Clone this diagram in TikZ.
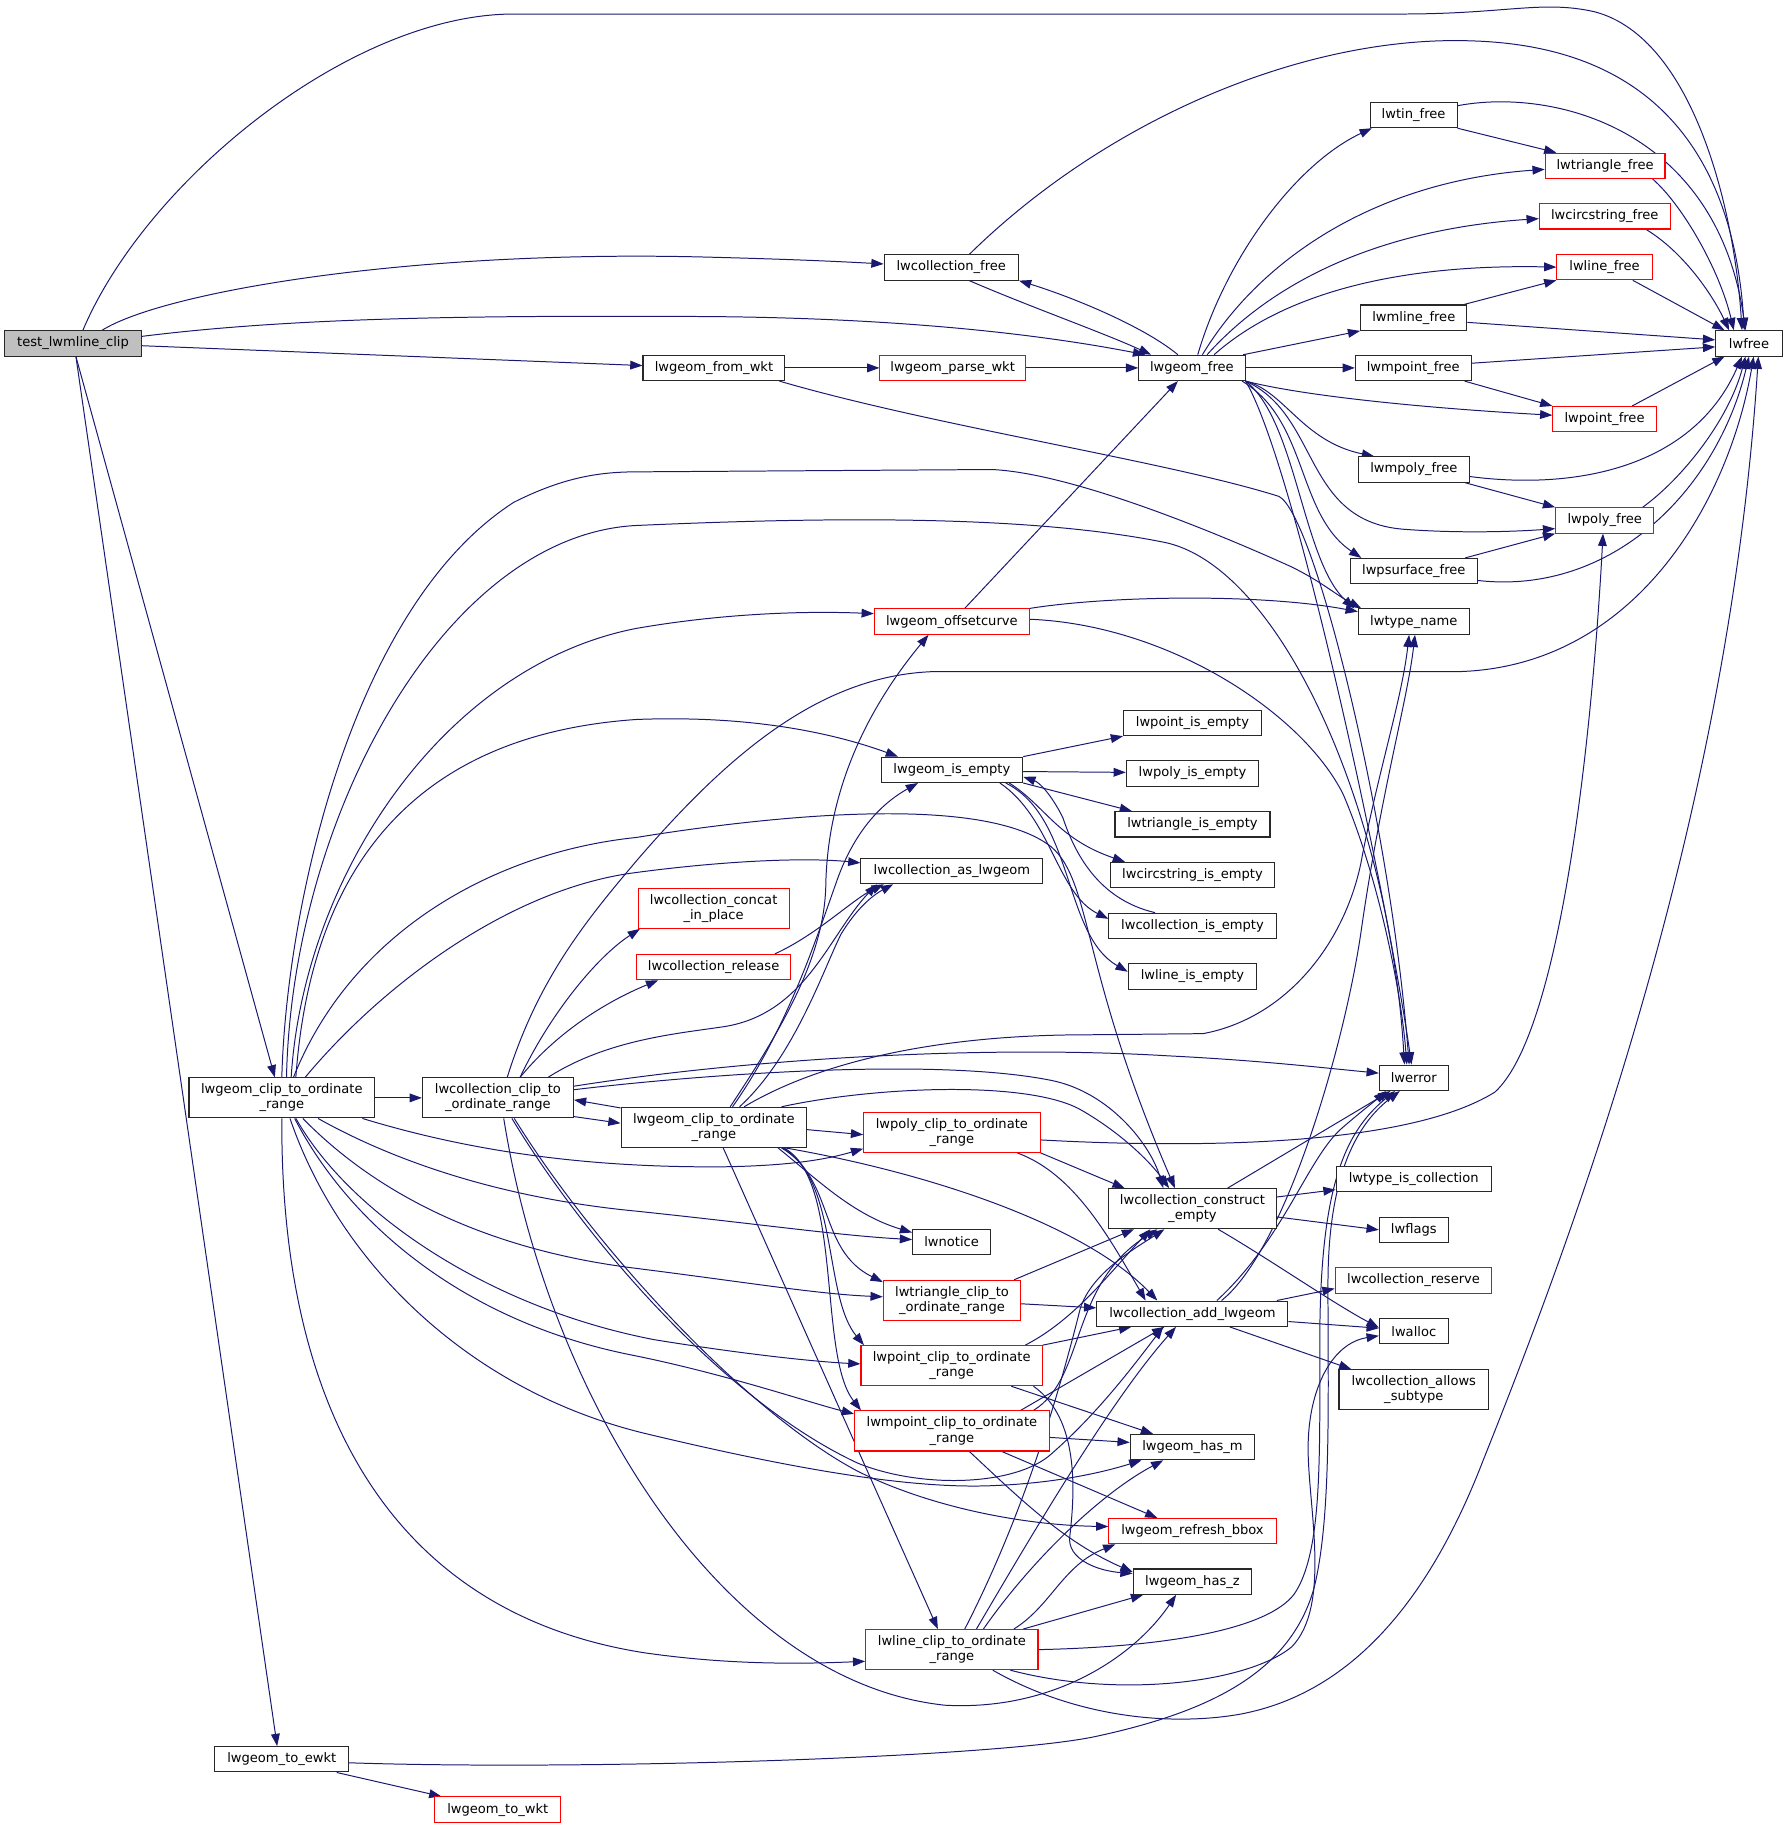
\documentclass[tikz,border=0pt]{standalone}
\usepackage{fontspec}
\setmainfont{DejaVu Sans}
\usetikzlibrary{arrows.meta,backgrounds}
\definecolor{edgec}{RGB}{25,25,112}
\definecolor{nodeb}{RGB}{40,40,40}
\definecolor{redb}{RGB}{255,0,0}
\definecolor{grayf}{RGB}{191,191,191}
\tikzset{
  fn/.style={draw=nodeb, line width=0.9pt, fill=white, inner sep=0pt, align=center,
    font=\fontsize{11.2}{13.1}\selectfont, minimum height=21.7pt},
  fnr/.style={fn, draw=redb},
  two/.style={minimum height=34.3pt},
  cg/.style={draw=edgec, line width=0.85pt, -{Triangle[length=10.5pt,width=7.5pt]}}
}
\begin{document}
\begin{tikzpicture}[x=1pt,y=-1pt]
\useasboundingbox (0,0) rectangle (1530,1566);
% nodes
\node[fn, fill=grayf, minimum width=117pt] (T) at (62.5,294) {test\_lwmline\_clip};
\node[fn, minimum width=115pt] (CF) at (814.5,229) {lwcollection\_free};
\node[fn, minimum width=121.5pt] (FW) at (611.3,315) {lwgeom\_from\_wkt};
\node[fnr, minimum width=124.6pt] (PW) at (815.7,315) {lwgeom\_parse\_wkt};
\node[fn, minimum width=91pt] (GF) at (1020.5,315) {lwgeom\_free};
\node[fn, minimum width=74.5pt] (TIN) at (1210.3,98.5) {lwtin\_free};
\node[fnr, minimum width=102.5pt] (TRI) at (1374.3,142) {lwtriangle\_free};
\node[fnr, minimum width=112pt] (CIRC) at (1374,185.2) {lwcircstring\_free};
\node[fnr, minimum width=81.5pt] (LINEF) at (1373.8,228.7) {lwline\_free};
\node[fn, minimum width=91pt] (MLINE) at (1210.5,272) {lwmline\_free};
\node[fn, minimum width=99pt] (MPOINTF) at (1210,315) {lwmpoint\_free};
\node[fnr, minimum width=88.4pt] (POINTF) at (1373.8,358.9) {lwpoint\_free};
\node[fn, minimum width=95pt] (MPOLY) at (1210.5,402) {lwmpoly\_free};
\node[fnr, minimum width=84pt] (POLYF) at (1374,445.6) {lwpoly\_free};
\node[fn, minimum width=109pt] (PSURF) at (1210.5,489) {lwpsurface\_free};
\node[fn, minimum width=57pt] (FREE) at (1497.5,294) {lwfree};
\node[fn, minimum width=95pt] (TYPEN) at (1210.5,532.2) {lwtype\_name};
\node[fnr, minimum width=132.7pt] (OC) at (815,532.2) {lwgeom\_offsetcurve};
\node[fn, minimum width=121.3pt] (IE) at (815,659.1) {lwgeom\_is\_empty};
\node[fn, minimum width=118pt] (PIE) at (1021,619) {lwpoint\_is\_empty};
\node[fn, minimum width=113.3pt] (POLYIE) at (1021,662.3) {lwpoly\_is\_empty};
\node[fn, minimum width=132.7pt] (TRIIE) at (1021,705.8) {lwtriangle\_is\_empty};
\node[fn, minimum width=140.7pt] (CIRCIE) at (1021,749.2) {lwcircstring\_is\_empty};
\node[fn, minimum width=143.2pt] (COLLIE) at (1021,792.7) {lwcollection\_is\_empty};
\node[fn, minimum width=110pt] (LINEIE) at (1021,836) {lwline\_is\_empty};
\node[fn, minimum width=155.7pt] (AS) at (815,745.8) {lwcollection\_as\_lwgeom};
\node[fnr, two, minimum width=129.3pt] (CC) at (611,777.7) {lwcollection\_concat\\\_in\_place};
\node[fnr, minimum width=132pt] (CR) at (611,828) {lwcollection\_release};
\node[fn, minimum width=59pt] (ERR) at (1210.5,922.8) {lwerror};
\node[fn, two, minimum width=159pt] (L) at (241.3,940) {lwgeom\_clip\_to\_ordinate\\\_range};
\node[fn, two, minimum width=129.3pt] (C) at (426.3,940) {lwcollection\_clip\_to\\\_ordinate\_range};
\node[fn, two, minimum width=158.9pt] (M) at (611.2,965.2) {lwgeom\_clip\_to\_ordinate\\\_range};
\node[fnr, two, minimum width=151pt] (PC) at (815,969.5) {lwpoly\_clip\_to\_ordinate\\\_range};
\node[fn, two, minimum width=143.2pt] (CE) at (1021,1034.9) {lwcollection\_construct\\\_empty};
\node[fn, minimum width=132.8pt] (TIC) at (1210.4,1009.6) {lwtype\_is\_collection};
\node[fn, minimum width=59pt] (FLAGS) at (1210.5,1053) {lwflags};
\node[fn, minimum width=66.8pt] (NOTICE) at (814.8,1063.3) {lwnotice};
\node[fnr, two, minimum width=117.6pt] (TC) at (815.1,1113.3) {lwtriangle\_clip\_to\\\_ordinate\_range};
\node[fn, minimum width=163.7pt] (AL) at (1020.9,1124.8) {lwcollection\_add\_lwgeom};
\node[fnr, minimum width=134.2pt] (RES) at (1210.3,1096.3) {lwcollection\_reserve};
\node[fn, minimum width=59pt] (ALLOC) at (1210.5,1139.7) {lwalloc};
\node[fn, two, minimum width=128.1pt] (ALLOWS) at (1210.5,1189.9) {lwcollection\_allows\\\_subtype};
\node[fnr, two, minimum width=155.2pt] (PTC) at (814.8,1169.3) {lwpoint\_clip\_to\_ordinate\\\_range};
\node[fnr, two, minimum width=166.7pt] (MPC) at (815,1225.2) {lwmpoint\_clip\_to\_ordinate\\\_range};
\node[fn, minimum width=106.5pt] (HASM) at (1021,1239) {lwgeom\_has\_m};
\node[fnr, minimum width=143.2pt] (BBOX) at (1021,1311) {lwgeom\_refresh\_bbox};
\node[fn, minimum width=101.6pt] (HASZ) at (1021,1354.2) {lwgeom\_has\_z};
\node[fnr, two, minimum width=147.5pt] (LC) at (815,1412.4) {lwline\_clip\_to\_ordinate\\\_range};
\node[fn, minimum width=114.5pt] (EW) at (241.3,1506.3) {lwgeom\_to\_ewkt};
\node[fnr, minimum width=107.6pt] (WKT) at (426.2,1549.4) {lwgeom\_to\_wkt};
% edges
\begin{pgfonlayer}{background}
\draw[cg] ([xshift=8.5pt]T.north) .. controls (125,155) and (300,12) .. (440,12) -- (1200,12) .. controls (1290,12) and (1320,0) .. (1365,10) .. controls (1450,32) and (1485,180) .. ([xshift=-6pt]FREE.north);
\draw[cg] ([xshift=25pt]T.north) .. controls (140,250) and (350,214) .. (600,220) .. controls (680,222) and (720,224) .. ([yshift=3pt]CF.west);
\draw[cg] ([yshift=6pt]T.east) .. controls (250,272) and (400,270) .. (600,271) .. controls (780,272) and (900,288) .. ([xshift=-40pt]GF.north);
\draw[cg] ([yshift=-2pt]T.east) -- ([yshift=2pt]FW.west);
\draw[cg] ([xshift=2.5pt]T.south) -- ([xshift=-6pt]L.north);
\draw[cg] ([xshift=2.5pt]T.south) -- ([xshift=-4pt]EW.north);
\draw[cg] ([xshift=15.5pt]CF.north) .. controls (950,100) and (1120,30) .. (1260,35) .. controls (1430,40) and (1485,150) .. ([xshift=-4pt]FREE.north);
\draw[cg] ([xshift=15.5pt]CF.south) .. controls (880,262) and (945,285) .. ([xshift=-35pt]GF.north);
\draw[cg] ([xshift=-12pt]GF.north) .. controls (980,280) and (920,255) .. (CF.south east);
\draw[cg] (FW.east) -- (PW.west);
\draw[cg] ([xshift=56pt]FW.south) .. controls (800,365) and (1000,395) .. (1095,425) .. controls (1125,440) and (1190,700) .. ([xshift=-4pt]ERR.north);
\draw[cg] (PW.east) -- (GF.west);
\draw[cg] ([xshift=5pt]GF.north) .. controls (1050,220) and (1110,140) .. ([xshift=2pt]TIN.south west);
\draw[cg] ([xshift=9pt]GF.north) .. controls (1080,220) and (1180,155) .. ([yshift=-3pt]TRI.west);
\draw[cg] ([xshift=13pt]GF.north) .. controls (1100,230) and (1200,195) .. ([yshift=-2pt]CIRC.west);
\draw[cg] ([xshift=19pt]GF.north) .. controls (1100,250) and (1200,226) .. (LINEF.west);
\draw[cg] ([xshift=-2pt]GF.north east) -- (MLINE.south west);
\draw[cg] (GF.east) -- (MPOINTF.west);
\draw[cg] (GF.south east) .. controls (1120,340) and (1230,350) .. ([yshift=3.4pt]POINTF.west);
\draw[cg] (GF.south east) .. controls (1100,335) and (1115,378) .. ([xshift=14pt]MPOLY.north west);
\draw[cg] (GF.south east) .. controls (1130,355) and (1115,445) .. (1200,453) .. controls (1250,457) and (1300,455) .. ([yshift=-7pt]POLYF.west);
\draw[cg] ([xshift=-3pt]GF.south east) .. controls (1120,360) and (1110,440) .. ([xshift=10pt]PSURF.north west);
\draw[cg] (GF.south east) .. controls (1110,360) and (1115,480) .. ([xshift=-3pt]TYPEN.north west);
\draw[cg] (GF.south east) .. controls (1110,400) and (1190,780) .. ([xshift=-2pt]ERR.north);
\draw[cg] ([yshift=8pt]TIN.east) .. controls (1330,75) and (1470,110) .. ([xshift=-3pt]FREE.north);
\draw[cg] (TIN.south east) -- ([xshift=10pt]TRI.north west);
\draw[cg] ([xshift=-11pt]TRI.south east) .. controls (1440,175) and (1472,230) .. ([xshift=-13pt]FREE.north);
\draw[cg] ([xshift=-21pt]CIRC.south east) .. controls (1440,215) and (1465,250) .. ([xshift=-17pt]FREE.north);
\draw[cg] ([xshift=-17pt]LINEF.south east) -- ([xshift=8pt]FREE.north west);
\draw[cg] ([xshift=-3pt]MLINE.north east) -- (LINEF.south west);
\draw[cg] ([yshift=-4pt]MLINE.east) -- ([yshift=3pt]FREE.west);
\draw[cg] ([yshift=4pt]MPOINTF.east) -- ([yshift=-3pt]FREE.west);
\draw[cg] ([xshift=-6pt]MPOINTF.south east) -- (POINTF.north west);
\draw[cg] ([xshift=-21pt]POINTF.north east) -- ([xshift=8pt]FREE.south west);
\draw[cg] ([yshift=-6pt]MPOLY.east) .. controls (1350,420) and (1450,400) .. ([xshift=-6pt]FREE.south);
\draw[cg] ([xshift=-4pt]MPOLY.south east) -- (POLYF.north west);
\draw[cg] ([xshift=-10pt]POLYF.north east) .. controls (1440,410) and (1480,360) .. ([xshift=-3pt]FREE.south);
\draw[cg] ([xshift=-11pt]PSURF.north east) -- (POLYF.south west);
\draw[cg] ([yshift=-8pt]PSURF.east) .. controls (1380,510) and (1470,420) .. (FREE.south);
\draw[cg] ([yshift=-6.5pt]PC.east) .. controls (1000,982) and (1200,985) .. (1280,935) .. controls (1340,880) and (1365,600) .. ([xshift=-1.5pt]POLYF.south);
\draw[cg] ([xshift=11pt]OC.north) -- ([xshift=-12pt]GF.south);
\draw[cg] (OC.north east) .. controls (950,510) and (1080,508) .. ([yshift=8.5pt]TYPEN.west);
\draw[cg] ([yshift=2pt]OC.east) .. controls (1000,535) and (1115,610) .. (1150,680) .. controls (1180,750) and (1200,850) .. ([xshift=-6pt]ERR.north);
\draw[cg] (L.north) .. controls (245,780) and (300,520) .. (440,430) .. controls (480,410) and (510,404) .. (545,404) -- (849,402) .. controls (920,405) and (1050,460) .. (1105,485) .. controls (1130,497) and (1145,510) .. ([xshift=3pt]TYPEN.north west);
\draw[cg] ([xshift=4pt]L.north) .. controls (250,700) and (380,460) .. (543,450) .. controls (700,443) and (880,440) .. (1000,465) .. controls (1100,490) and (1190,700) .. ([xshift=-8pt]ERR.north);
\draw[cg] ([xshift=8pt]L.north) .. controls (260,750) and (380,570) .. (545,538) .. controls (620,525) and (690,523) .. ([yshift=6.8pt]OC.west);
\draw[cg] ([xshift=12pt]L.north) .. controls (265,760) and (340,630) .. (545,616) .. controls (650,612) and (720,630) .. ([xshift=15pt]IE.north west);
\draw[cg] ([xshift=20pt]L.north) .. controls (330,840) and (440,760) .. (545,747) .. controls (620,737) and (690,734) .. ([yshift=7pt]AS.west);
\draw[cg] ([xshift=10pt]L.north) .. controls (300,800) and (420,730) .. (545,717) .. controls (650,700) and (840,678) .. (900,725) .. controls (935,755) and (925,830) .. ([xshift=-15pt]CE.north);
\draw[cg] (L.east) -- (C.west);
\draw[cg] ([xshift=-11pt]L.south east) .. controls (400,985) and (500,1000) .. (620,999) .. controls (680,998) and (710,992) .. ([yshift=-14pt]PC.west);
\draw[cg] ([xshift=31pt]L.south) .. controls (330,990) and (420,1025) .. (545,1037) .. controls (650,1048) and (720,1058) .. ([yshift=2pt]NOTICE.west);
\draw[cg] ([xshift=18pt]L.south) .. controls (330,1030) and (430,1072) .. (545,1086) .. controls (640,1098) and (700,1108) .. ([yshift=3pt]TC.west);
\draw[cg] ([xshift=12pt]L.south) .. controls (300,1040) and (420,1120) .. (560,1147) .. controls (640,1160) and (700,1166) .. ([yshift=1.5pt]PTC.west);
\draw[cg] ([xshift=11pt]L.south) .. controls (300,1050) and (400,1132) .. (540,1160) .. controls (620,1176) and (690,1200) .. ([yshift=-3pt]MPC.north west);
\draw[cg] ([xshift=7pt]L.south) .. controls (290,1080) and (400,1190) .. (551,1227) .. controls (680,1258) and (780,1275) .. (850,1272) .. controls (900,1270) and (940,1262) .. ([xshift=10pt]HASM.south west);
\draw[cg] (L.south) .. controls (240,1200) and (330,1380) .. (551,1415) .. controls (620,1425) and (680,1425) .. ([yshift=-10pt]LC.west);
\draw[cg] ([xshift=19pt]C.north) .. controls (470,870) and (510,820) .. ([xshift=2pt]CC.south west);
\draw[cg] ([xshift=19pt]C.north) .. controls (480,880) and (525,855) .. ([xshift=19pt]CR.south west);
\draw[cg] ([xshift=43pt]C.north) .. controls (520,890) and (580,885) .. (620,879) .. controls (690,868) and (710,800) .. ([xshift=14pt]AS.south west);
\draw[cg] ([xshift=8pt]C.north) .. controls (460,840) and (500,790) .. (545,737) .. controls (620,650) and (700,578) .. (800,575) -- (1250,575) .. controls (1400,570) and (1480,430) .. ([xshift=4pt]FREE.south);
\draw[cg] ([yshift=10pt]C.east) .. controls (650,905) and (850,895) .. (1000,904) .. controls (1080,908) and (1130,914) .. ([yshift=4pt]ERR.west);
\draw[cg] ([yshift=7pt]C.east) .. controls (600,920) and (800,905) .. (900,925) .. controls (950,935) and (985,980) .. ([xshift=-25pt]CE.north);
\draw[cg] ([yshift=-16pt]C.east) -- ([yshift=3.5pt]M.west);
\draw[cg] ([yshift=-1pt]M.north west) -- ([yshift=-1.7pt]C.east);
\draw[cg] ([xshift=12pt]C.south) .. controls (500,1060) and (620,1200) .. (735,1253) .. controls (790,1275) and (870,1272) .. (900,1245) .. controls (940,1210) and (970,1170) .. ([xshift=-25pt]AL.south);
\draw[cg] ([xshift=14pt]C.south) .. controls (510,1070) and (640,1210) .. (735,1260) .. controls (800,1292) and (880,1306) .. ([yshift=4pt]BBOX.west);
\draw[cg] ([xshift=5pt]C.south) .. controls (470,1200) and (620,1440) .. (809,1460) .. controls (900,1465) and (970,1420) .. ([xshift=-14pt]HASZ.south);
\draw[cg] ([xshift=14pt]M.north) .. controls (670,880) and (705,820) .. (707,760) .. controls (708,680) and (740,610) .. ([xshift=-20pt]OC.south);
\draw[cg] ([xshift=16pt]M.north) .. controls (675,880) and (700,800) .. (718,750) .. controls (735,705) and (760,685) .. ([xshift=-29pt]IE.south);
\draw[cg] ([xshift=22pt]M.north) .. controls (680,905) and (705,830) .. (720,800) .. controls (735,775) and (750,765) .. ([xshift=28pt]AS.south west);
\draw[cg] ([xshift=26pt]M.north) .. controls (700,910) and (800,886) .. (930,886) -- (1030,885) .. controls (1100,872) and (1150,810) .. (1165,740) .. controls (1180,660) and (1200,600) .. ([xshift=-4pt]TYPEN.south);
\draw[cg] ([xshift=58pt]M.north) .. controls (750,930) and (880,925) .. (925,950) .. controls (960,970) and (985,995) .. ([xshift=-20pt]CE.north);
\draw[cg] ([yshift=-2pt]M.east) -- ([yshift=-2pt]PC.west);
\draw[cg] ([xshift=-19pt]M.south east) .. controls (800,1005) and (930,1050) .. ([xshift=-30pt]AL.north);
\draw[cg] ([xshift=-25pt]M.south east) .. controls (700,1010) and (730,1040) .. ([yshift=8pt]NOTICE.west);
\draw[cg] ([xshift=-22pt]M.south east) .. controls (715,1010) and (700,1070) .. ([yshift=-2pt]TC.north west);
\draw[cg] ([xshift=-21pt]M.south east) .. controls (718,1010) and (705,1110) .. ([xshift=3pt]PTC.north west);
\draw[cg] ([xshift=-20pt]M.south east) .. controls (722,1010) and (700,1160) .. ([xshift=6pt]MPC.north west);
\draw[cg] ([xshift=8pt]M.south) -- ([xshift=-12pt]LC.north);
\draw[cg] ([xshift=-14pt]CR.north east) .. controls (700,800) and (730,770) .. ([xshift=20pt]AS.south west);
\draw[cg] (IE.north east) -- (PIE.south west);
\draw[cg] ([yshift=-1.5pt]IE.east) -- ([yshift=1pt]POLYIE.west);
\draw[cg] (IE.south east) -- ([xshift=15pt]TRIIE.north west);
\draw[cg] ([xshift=-12pt]IE.south east) .. controls (895,690) and (905,718) .. ([xshift=13pt]CIRCIE.north west);
\draw[cg] ([xshift=-20pt]IE.south east) .. controls (900,700) and (905,765) .. ([yshift=6pt]COLLIE.west);
\draw[cg] ([xshift=-15pt]IE.south east) .. controls (920,700) and (910,800) .. ([yshift=4pt]LINEIE.west);
\draw[cg] ([xshift=40pt]COLLIE.north west) .. controls (940,770) and (920,730) .. (910,700) .. controls (900,680) and (890,670) .. ([yshift=-6pt]IE.east);
\draw[cg] ([xshift=30pt]CE.north) -- ([xshift=-20pt]ERR.south);
\draw[cg] ([yshift=10pt]CE.east) -- ([yshift=-9pt]TIC.west);
\draw[cg] ([yshift=-7pt]CE.east) -- (FLAGS.west);
\draw[cg] ([xshift=22pt]CE.south) .. controls (1090,1080) and (1140,1115) .. ([yshift=3pt]ALLOC.west);
\draw[cg] ([xshift=21pt]AL.north) .. controls (1100,1060) and (1120,990) .. (1150,965) .. controls (1165,952) and (1178,942) .. ([xshift=-24pt]ERR.south);
\draw[cg] ([xshift=25pt]AL.north) .. controls (1100,1070) and (1150,900) .. (1165,800) .. controls (1182,680) and (1205,600) .. ([xshift=1pt]TYPEN.south);
\draw[cg] ([xshift=-10pt]AL.north east) -- ([yshift=-7pt]RES.west);
\draw[cg] ([yshift=-6.7pt]AL.east) -- ([yshift=2.5pt]ALLOC.west);
\draw[cg] ([xshift=32pt]AL.south) -- ([xshift=11pt]ALLOWS.north west);
\draw[cg] (PC.south east) -- ([xshift=14pt]CE.north west);
\draw[cg] ([xshift=-20pt]PC.south east) .. controls (920,1005) and (950,1060) .. ([xshift=-40pt]AL.north);
\draw[cg] ([xshift=-6pt]TC.north east) -- ([xshift=22pt]CE.south west);
\draw[cg] ([yshift=-3pt]TC.east) -- ([yshift=5pt]AL.west);
\draw[cg] ([xshift=-15pt]PTC.north east) .. controls (920,1130) and (950,1090) .. ([xshift=36pt]CE.south west);
\draw[cg] (PTC.north east) -- ([xshift=30pt]AL.south west);
\draw[cg] ([xshift=-27pt]PTC.south east) -- ([xshift=20pt]HASM.north west);
\draw[cg] ([xshift=-8pt]PTC.south east) .. controls (925,1215) and (920,1280) .. (916,1315) .. controls (913,1335) and (940,1345) .. ([yshift=7pt]HASZ.west);
\draw[cg] ([xshift=-14pt]MPC.north east) .. controls (930,1180) and (915,1100) .. ([xshift=42pt]CE.south west);
\draw[cg] ([xshift=-25pt]MPC.north east) -- ([xshift=-24pt]AL.south);
\draw[cg] ([yshift=-5.5pt]MPC.east) -- ([yshift=4pt]HASM.west);
\draw[cg] ([xshift=-41pt]MPC.south east) -- ([xshift=42pt]BBOX.north west);
\draw[cg] ([xshift=15pt]MPC.south) .. controls (870,1280) and (910,1320) .. ([yshift=-3pt]HASZ.north west);
\draw[cg] ([xshift=11pt]LC.north) .. controls (880,1290) and (910,1180) .. (925,1120) .. controls (935,1090) and (970,1070) .. ([xshift=48pt]CE.south west);
\draw[cg] ([xshift=21pt]LC.north) .. controls (880,1320) and (950,1200) .. ([xshift=-14pt]AL.south);
\draw[cg] ([xshift=27pt]LC.north) .. controls (880,1340) and (940,1280) .. ([xshift=-25pt]HASM.south);
\draw[cg] ([xshift=53pt]LC.north) .. controls (900,1375) and (910,1340) .. ([xshift=6pt]BBOX.south west);
\draw[cg] ([xshift=61pt]LC.north) -- ([xshift=9pt]HASZ.south west);
\draw[cg] ([xshift=50pt]LC.south) .. controls (960,1455) and (1070,1440) .. (1106,1410) .. controls (1140,1375) and (1120,1290) .. (1120,1240) .. controls (1120,1190) and (1140,1150) .. ([yshift=-4pt]ALLOC.west);
\draw[cg] (LC.east) .. controls (1000,1410) and (1085,1395) .. (1108,1365) .. controls (1132,1330) and (1130,1250) .. (1130,1150) .. controls (1130,1020) and (1150,970) .. ([xshift=-16pt]ERR.south);
\draw[cg] ([xshift=35pt]LC.south) .. controls (920,1470) and (1000,1478) .. (1060,1468) .. controls (1150,1452) and (1220,1380) .. (1270,1250) .. controls (1350,1050) and (1480,700) .. ([xshift=8pt]FREE.south);
\draw[cg] ([yshift=-3pt]EW.east) .. controls (500,1516) and (850,1505) .. (937,1487) .. controls (1040,1465) and (1105,1430) .. (1125,1360) .. controls (1140,1300) and (1137,1200) .. (1137,1100) .. controls (1137,1000) and (1165,960) .. ([xshift=-12pt]ERR.south);
\draw[cg] ([xshift=47pt]EW.south) -- ([xshift=6pt]WKT.north west);
\end{pgfonlayer}
\end{tikzpicture}
\end{document}
